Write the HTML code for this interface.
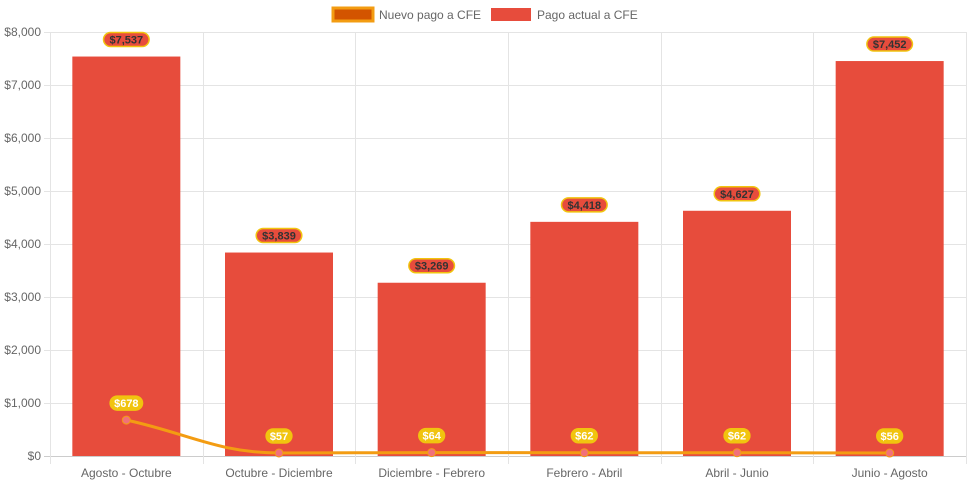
<!DOCTYPE html>
<html><head><meta charset="utf-8"><style>
html,body{margin:0;padding:0;background:#fff;}
svg{display:block;font-family:"Liberation Sans",Arial,sans-serif;}
</style></head><body>
<svg id="chart" width="971" height="485">
<g id="legend">
  <g>
    <rect x="333" y="8" width="40" height="13" fill="#d35400" stroke="#f39c12" stroke-width="3"/>
    <text x="379" y="19" font-size="12" fill="#666">Nuevo pago a CFE</text>
  </g>
  <g>
    <rect x="491" y="8" width="40" height="13" fill="#e74c3c"/>
    <text x="537" y="19" font-size="12" fill="#666">Pago actual a CFE</text>
  </g>
</g>
<g id="grid"></g>
<g id="bars"></g>
<g id="line"></g>
<g id="labels"></g>
</svg>
<script>
const categories = ["Agosto - Octubre","Octubre - Diciembre","Diciembre - Febrero","Febrero - Abril","Abril - Junio","Junio - Agosto"];
const pagoActual = [7537, 3839, 3269, 4418, 4627, 7452];
const nuevoPago = [678, 57, 64, 62, 62, 56];
const yTicks = [0,1000,2000,3000,4000,5000,6000,7000,8000];

const NS="http://www.w3.org/2000/svg";
const X0=50,X1=966,Y0=456,Y1=32,YMAX=8000;
const cw=(X1-X0)/categories.length;
const xC=i=>X0+cw*(i+0.5);
const yS=v=>Y0-v*(Y0-Y1)/YMAX;
const fmt=v=>"$"+v.toLocaleString("en-US");
function mk(tag,attrs,parent,text){const e=document.createElementNS(NS,tag);for(const k in attrs)e.setAttribute(k,attrs[k]);if(text!==undefined)e.textContent=text;parent.appendChild(e);return e;}
const grid=document.getElementById("grid"),bars=document.getElementById("bars"),line=document.getElementById("line"),labels=document.getElementById("labels");

yTicks.forEach(t=>{
  const y=yS(t)+0.5;
  const l=mk("line",{x1:X0-6,x2:X1,y1:y,y2:y,stroke:t===0?"#ccc":"#e4e4e4","stroke-width":1},grid);
  
  
  const tx=mk("text",{x:X0-9,y:yS(t)+4,"font-size":12,fill:"#666","text-anchor":"end"},grid,fmt(t));
  
  
});
for(let i=0;i<=categories.length;i++){
  const x=Math.round(X0+cw*i)+0.5;
  const l=mk("line",{x1:x,x2:x,y1:Y1,y2:Y0+8,stroke:"#e4e4e4","stroke-width":1},grid);
  
  
}
categories.forEach((c,i)=>{
  const t=mk("text",{x:xC(i),y:477,"font-size":12,fill:"#666","text-anchor":"middle"},grid,c);
  
  
});
const bw=108;
pagoActual.forEach((v,i)=>{
  const r=mk("rect",{x:xC(i)-bw/2,y:yS(v),width:bw,height:Y0-yS(v),fill:"#e74c3c"},bars);
  
  
});
// monotone-ish curve
const pts=nuevoPago.map((v,i)=>[xC(i),yS(v)]);
let d="M"+pts[0][0]+","+pts[0][1];
for(let i=1;i<pts.length;i++){
  const p=pts[i-1],q=pts[i],dx=(q[0]-p[0])*0.4;
  d+=` C${p[0]+dx},${i===1?p[1]+(q[1]-p[1])*0.4:p[1]} ${q[0]-dx},${q[1]} ${q[0]},${q[1]}`;
}
const pl=mk("path",{d:d,fill:"none",stroke:"#f39c12","stroke-width":3},line);


pts.forEach(p=>{
  const c=mk("circle",{cx:p[0],cy:p[1],r:4,fill:"#f1707a",stroke:"#f39c12","stroke-width":1},line);
  
  
});
function badge(x,y,txt,fill,stroke,color,name){
  const w=txt.length*6.6+6;
  const g=mk("g",{},labels);
  
  
  mk("rect",{x:x-w/2,y:y-7,width:w,height:14,rx:7,fill:fill,stroke:stroke,"stroke-width":1.5},g);
  mk("text",{x:x,y:y+4,"font-size":11,"font-weight":"bold",fill:color,"text-anchor":"middle"},g,txt);
}
pagoActual.forEach((v,i)=>badge(xC(i),yS(v)-17,fmt(v),"#e74c3c","#f1c40f","#333","bar-value-label"));
nuevoPago.forEach((v,i)=>badge(xC(i),yS(v)-17,fmt(v),"#f1c40f","#f1c40f","#fff","line-value-label"));
</script>
</body></html>
